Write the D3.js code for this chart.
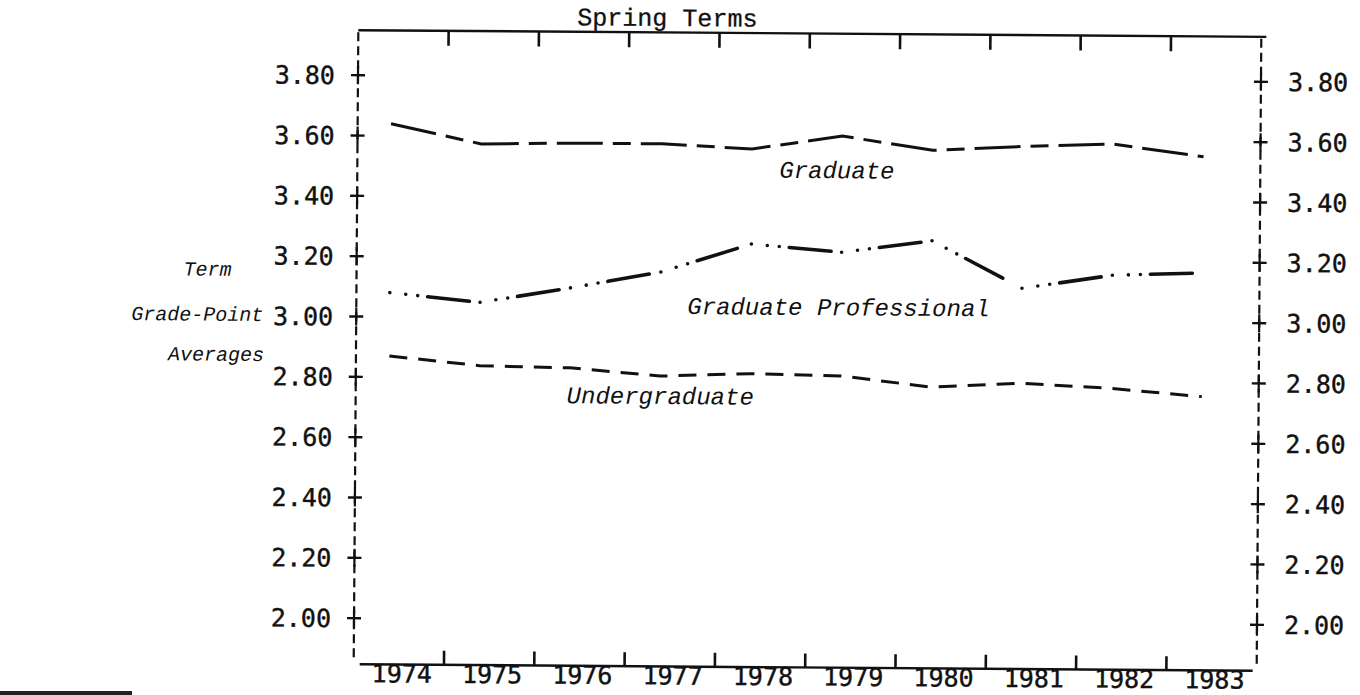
<!DOCTYPE html>
<html>
<head>
<meta charset="utf-8">
<title>Term Grade-Point Averages</title>
<script src="https://cdn.jsdelivr.net/npm/d3@7"></script>
<style>
  body { margin: 0; background: #fff; }
  text { fill: #111; }
  .num { font-family: "DejaVu Sans Mono", monospace; font-size: 25px; stroke: #111; stroke-width: 0.4px; }
  .title { font-family: "Liberation Mono", monospace; font-size: 25px; stroke: #111; stroke-width: 0.3px; }
  .lab { font-family: "Liberation Mono", monospace; font-style: italic; font-size: 24px; }
  .side { font-family: "Liberation Mono", monospace; font-style: italic; font-size: 20px; }
</style>
</head>
<body>
<script>
// data (spring terms)
var years = [1974, 1975, 1976, 1977, 1978, 1979, 1980, 1981, 1982, 1983];
var graduate         = [3.64, 3.575, 3.58, 3.58, 3.565, 3.61, 3.565, 3.58, 3.59, 3.55];
var gradProfessional = [3.08, 3.05, 3.10, 3.155, 3.25, 3.225, 3.265, 3.11, 3.155, 3.165];
var undergraduate    = [2.87, 2.84, 2.835, 2.81, 2.82, 2.815, 2.78, 2.795, 2.78, 2.755];
var yTicks = [2.00, 2.20, 2.40, 2.60, 2.80, 3.00, 3.20, 3.40, 3.60, 3.80];
var leftTitle = ["Term", "Grade-Point", "Averages"];

var W = 1360, H = 695;
var xLeft = 356, xRight = 1259, yTop = 33.5, yBottom = 667.5;

var svg = d3.select("body").append("svg")
    .attr("width", W)
    .attr("height", H);

// the scan is a little tilted
var g = svg.append("g")
    .attr("transform", "rotate(0.42,808,350)");

var x = d3.scaleBand().domain(years).range([xLeft, xRight]);
var y = d3.scaleLinear().domain([2.00, 3.80]).range([621.5, 78.5]);
var px = function(yr) { return x(yr) + x.bandwidth() * 0.37; };

// frame: solid top & bottom, dashed sides
g.append("line").attr("x1", xLeft).attr("x2", xRight + 5).attr("y1", yTop).attr("y2", yTop)
    .attr("stroke", "#111").attr("stroke-width", 2.4);
g.append("line").attr("x1", xLeft + 6).attr("x2", xRight - 4).attr("y1", yBottom).attr("y2", yBottom)
    .attr("stroke", "#111").attr("stroke-width", 2.4);
[xLeft, xRight].forEach(function(xx) {
  g.append("line").attr("x1", xx).attr("x2", xx).attr("y1", yTop + 2).attr("y2", yBottom - 4)
      .attr("stroke", "#111").attr("stroke-width", 2.2)
      .attr("stroke-dasharray", "9,5");
});

// year band boundaries
var bounds = years.slice(1);
g.selectAll(".ttop").data(bounds).enter().append("line")
    .attr("x1", function(d) { return x(d); }).attr("x2", function(d) { return x(d); })
    .attr("y1", yTop).attr("y2", yTop + 15)
    .attr("stroke", "#111").attr("stroke-width", 2.6);
g.selectAll(".tbot").data(bounds).enter().append("line")
    .attr("x1", function(d) { return x(d); }).attr("x2", function(d) { return x(d); })
    .attr("y1", yBottom - 14).attr("y2", yBottom)
    .attr("stroke", "#111").attr("stroke-width", 2.6);

g.selectAll(".year").data(years).enter().append("text")
    .attr("class", "num")
    .attr("x", function(d) { return x(d) + x.bandwidth() / 2 + 3; })
    .attr("y", yBottom + 18)
    .attr("text-anchor", "middle")
    .text(function(d) { return d; });

// + marks and labels on both sides
[xLeft, xRight].forEach(function(xx, side) {
  var t = g.selectAll(".yt" + side).data(yTicks).enter().append("g")
      .attr("transform", function(d) { return "translate(" + xx + "," + y(d) + ")"; });
  t.append("line").attr("x1", -7).attr("x2", 7).attr("stroke", "#111").attr("stroke-width", 2.4);
  t.append("line").attr("y1", -9).attr("y2", 9).attr("stroke", "#111").attr("stroke-width", 2.2);
  t.append("text")
      .attr("class", "num")
      .attr("x", side ? 27 : -23)
      .attr("dy", "0.36em")
      .attr("text-anchor", side ? "start" : "end")
      .text(function(d) { return d.toFixed(2); });
});

g.append("text").attr("class", "title")
    .attr("x", 665).attr("y", 27)
    .attr("text-anchor", "middle")
    .text("Spring Terms");

g.selectAll(".lt").data(leftTitle).enter().append("text")
    .attr("class", "side")
    .attr("x", function(d, i) { return [207, 197, 216][i]; })
    .attr("y", function(d, i) { return [280, 325, 365][i]; })
    .attr("text-anchor", "middle")
    .text(function(d) { return d; });

// series
var line = d3.line()
    .x(function(d, i) { return px(years[i]); })
    .y(function(d) { return y(d); });

g.append("path").datum(graduate)
    .attr("d", line)
    .attr("fill", "none").attr("stroke", "#111").attr("stroke-width", 3)
    .attr("stroke-dasharray", "46,10,18,10");

g.append("path").datum(undergraduate)
    .attr("d", line)
    .attr("fill", "none").attr("stroke", "#111").attr("stroke-width", 3)
    .attr("stroke-dasharray", "18,11");

// graduate professional: dot dot dot dash, restarting at each year
var pairs = d3.pairs(gradProfessional.map(function(v, i) { return [px(years[i]), y(v)]; }));
g.selectAll(".gp").data(pairs).enter().append("path")
    .attr("d", function(p) { return d3.line()(p); })
    .attr("fill", "none").attr("stroke", "#111").attr("stroke-width", 3.6)
    .attr("stroke-linecap", "round")
    .attr("stroke-dasharray", "0,16,0,12,0,10,42,300");

g.append("text").attr("class", "lab").attr("x", 778).attr("y", 178).text("Graduate");
g.append("text").attr("class", "lab").attr("x", 687).attr("y", 315).text("Graduate Professional");
g.append("text").attr("class", "lab").attr("x", 567).attr("y", 405).text("Undergraduate");

// scanner smudge along the bottom-left edge
svg.append("rect").attr("x", 0).attr("y", 691).attr("width", 132).attr("height", 4).attr("fill", "#222");
</script>
</body>
</html>
